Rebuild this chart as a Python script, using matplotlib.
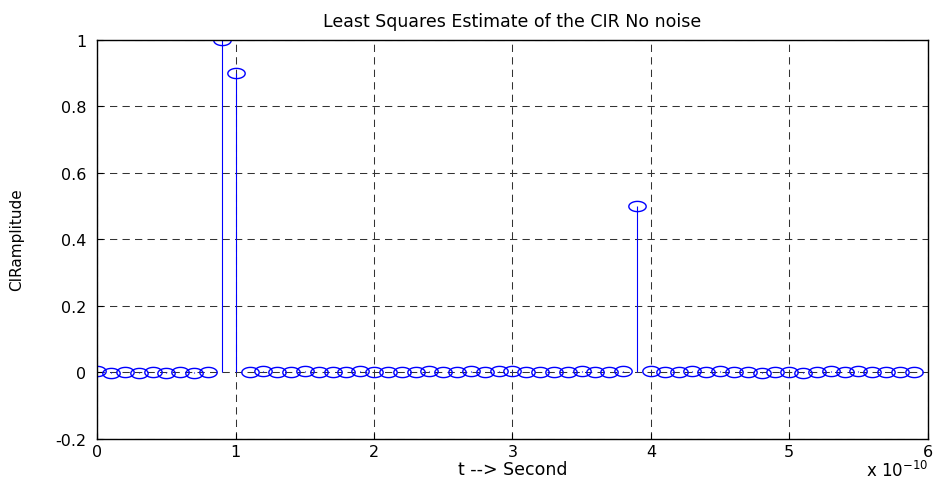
import numpy as np
import matplotlib.pyplot as plt
from matplotlib.path import Path

plt.rcParams['font.family'] = ['DejaVu Sans']

# sample times (units of 1e-10 s) and estimated CIR amplitudes
t_idx = np.arange(60) * 0.1
cir = [0.002, -0.002, 0.001, -0.002, 0.001, -0.002, 0.001, -0.002, 0.001, 1.0,
       0.9, -0.001, 0.002, -0.001, 0.001, 0.002, -0.001, 0.001, -0.001, 0.002,
       0.001, -0.001, -0.001, 0.001, 0.002, 0.001, -0.001, 0.002, 0.001, 0.002,
       0.002, 0.001, 0.001, -0.001, 0.001, 0.002, -0.001, 0.001, 0.002, 0.5,
       0.002, -0.001, 0.001, 0.002, -0.001, 0.002, 0.001, -0.001, -0.002, 0.001,
       -0.001, -0.002, 0.001, 0.002, -0.001, 0.002, 0.001, -0.001, 0.001, -0.001]

xticks = [0, 1, 2, 3, 4, 5, 6]
yticks = [-0.2, 0, 0.2, 0.4, 0.6, 0.8, 1]
ytick_labels = ['-0.2', '0', '0.2', '0.4', '0.6', '0.8', '1']

# wide ellipse marker (the original image is stretched sideways)
th = np.linspace(0, 2 * np.pi, 60)
ellipse = Path(np.column_stack([1.7 * np.cos(th), np.sin(th)]), closed=True)

fig = plt.figure(figsize=(9.39, 4.89), dpi=100)
ax = fig.add_axes([0.1036, 0.1012, 0.8843, 0.8155])

ml, sl, bl = ax.stem(t_idx, cir, linefmt='b-', markerfmt='bo', basefmt=' ')
plt.setp(sl, linewidth=0.8, color='#0000ff')
plt.setp(ml, marker=ellipse, markersize=12.5, markerfacecolor='none',
         markeredgecolor='#0000ff', markeredgewidth=1.0)

ax.set_xlim(0, 6)
ax.set_ylim(-0.2, 1)
ax.set_xticks(xticks)
ax.set_xticklabels([str(v) for v in xticks])
ax.set_yticks(yticks)
ax.set_yticklabels(ytick_labels)
ax.tick_params(direction='in', length=4, labelsize=11.5, width=0.8)
ax.tick_params(axis='x', pad=4)
ax.tick_params(axis='y', pad=8)
ax.grid(True, color='#333333', linestyle=(0, (7, 5)), linewidth=0.75)
ax.set_axisbelow(True)
for s in ax.spines.values():
    s.set_linewidth(1)

ax.set_title('Least Squares Estimate of the CIR No noise', fontsize=12.5, pad=10)
ax.set_xlabel('t --> Second', fontsize=12.5, labelpad=1)
ax.set_ylabel('CIRamplitude', fontsize=11, labelpad=22)
fig.text(0.988, 0.036, r'x 10$^{-10}$', ha='right', va='center', fontsize=12)

fig.savefig('out.png', dpi=100, facecolor='white')
